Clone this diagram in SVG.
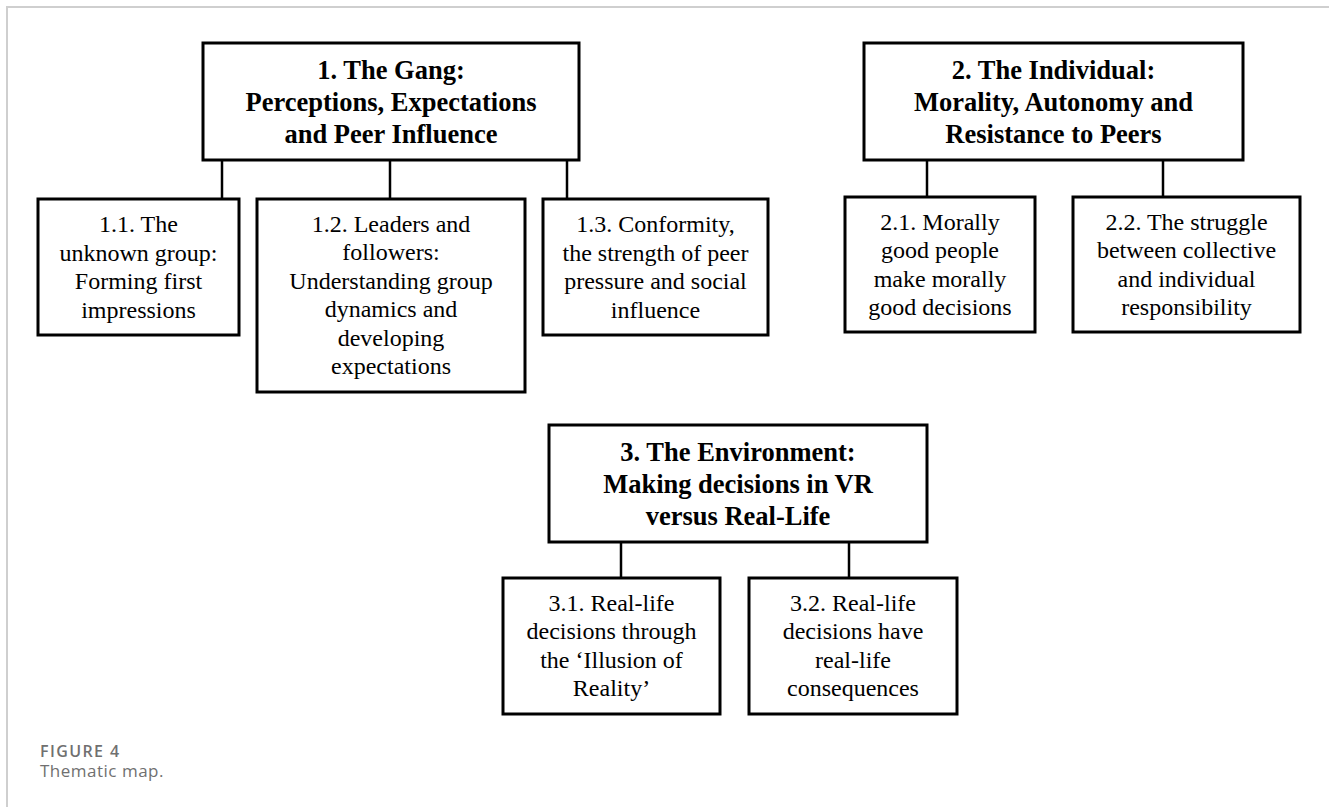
<svg xmlns="http://www.w3.org/2000/svg" width="1329" height="807" viewBox="0 0 1329 807">
<style>
.box{fill:#fff;stroke:#000;stroke-width:3}
.con{stroke:#000;stroke-width:2.5;fill:none}
.t{font-family:"Liberation Serif","Times New Roman",serif;font-size:26.5px;font-weight:bold;text-anchor:middle;fill:#000}
.s{font-family:"Liberation Serif","Times New Roman",serif;font-size:24px;text-anchor:middle;fill:#000}
.cap1{font-family:"Open Sans","Noto Sans",sans-serif;font-size:16px;font-weight:600;fill:#707070;letter-spacing:1.4px}
.cap2{font-family:"Open Sans","Noto Sans",sans-serif;font-size:17px;fill:#707070;letter-spacing:0.5px}
</style>
<rect width="1329" height="807" fill="#fff"/>
<path d="M7,807 V7 H1329" fill="none" stroke="#cfcfcf" stroke-width="2"/>
<g id="connectors">
<line class="con" x1="222" y1="160" x2="222" y2="199"/>
<line class="con" x1="390" y1="160" x2="390" y2="199"/>
<line class="con" x1="567" y1="160" x2="567" y2="199"/>
<line class="con" x1="927" y1="160" x2="927" y2="197"/>
<line class="con" x1="1163" y1="160" x2="1163" y2="197"/>
<line class="con" x1="621" y1="542" x2="621" y2="578"/>
<line class="con" x1="849" y1="542" x2="849" y2="578"/>
</g>
<g id="n1">
<rect class="box" x="203" y="43" width="376" height="117"/>
<text class="t" x="391" y="79">1. The Gang:</text>
<text class="t" x="391" y="111">Perceptions, Expectations</text>
<text class="t" x="391" y="143">and Peer Influence</text>
</g>
<g id="n1_1">
<rect class="box" x="38" y="199" width="201" height="136"/>
<text class="s" x="138.5" y="232">1.1. The</text>
<text class="s" x="138.5" y="261">unknown group:</text>
<text class="s" x="138.5" y="289">Forming first</text>
<text class="s" x="138.5" y="318">impressions</text>
</g>
<g id="n1_2">
<rect class="box" x="257" y="199" width="268" height="193"/>
<text class="s" x="391" y="232">1.2. Leaders and</text>
<text class="s" x="391" y="260">followers:</text>
<text class="s" x="391" y="289">Understanding group</text>
<text class="s" x="391" y="317">dynamics and</text>
<text class="s" x="391" y="346">developing</text>
<text class="s" x="391" y="374">expectations</text>
</g>
<g id="n1_3">
<rect class="box" x="543" y="199" width="225" height="136"/>
<text class="s" x="655.5" y="232">1.3. Conformity,</text>
<text class="s" x="655.5" y="261">the strength of peer</text>
<text class="s" x="655.5" y="289">pressure and social</text>
<text class="s" x="655.5" y="318">influence</text>
</g>
<g id="n2">
<rect class="box" x="864" y="43" width="379" height="117"/>
<text class="t" x="1053.5" y="79">2. The Individual:</text>
<text class="t" x="1053.5" y="111">Morality, Autonomy and</text>
<text class="t" x="1053.5" y="143">Resistance to Peers</text>
</g>
<g id="n2_1">
<rect class="box" x="845" y="197" width="190" height="135"/>
<text class="s" x="940" y="230">2.1. Morally</text>
<text class="s" x="940" y="258">good people</text>
<text class="s" x="940" y="287">make morally</text>
<text class="s" x="940" y="315">good decisions</text>
</g>
<g id="n2_2">
<rect class="box" x="1073" y="197" width="227" height="135"/>
<text class="s" x="1186.5" y="230">2.2. The struggle</text>
<text class="s" x="1186.5" y="258">between collective</text>
<text class="s" x="1186.5" y="287">and individual</text>
<text class="s" x="1186.5" y="315">responsibility</text>
</g>
<g id="n3">
<rect class="box" x="549" y="425" width="378" height="117"/>
<text class="t" x="738" y="461">3. The Environment:</text>
<text class="t" x="738" y="493">Making decisions in VR</text>
<text class="t" x="738" y="525">versus Real-Life</text>
</g>
<g id="n3_1">
<rect class="box" x="503" y="578" width="217" height="136"/>
<text class="s" x="611.5" y="611">3.1. Real-life</text>
<text class="s" x="611.5" y="639">decisions through</text>
<text class="s" x="611.5" y="668">the ‘Illusion of</text>
<text class="s" x="611.5" y="696">Reality’</text>
</g>
<g id="n3_2">
<rect class="box" x="749" y="578" width="208" height="136"/>
<text class="s" x="853" y="611">3.2. Real-life</text>
<text class="s" x="853" y="639">decisions have</text>
<text class="s" x="853" y="668">real-life</text>
<text class="s" x="853" y="696">consequences</text>
</g>
<g id="caption">
<text class="cap1" x="40" y="757">FIGURE 4</text>
<text class="cap2" x="40" y="777">Thematic map.</text>
</g>
</svg>
